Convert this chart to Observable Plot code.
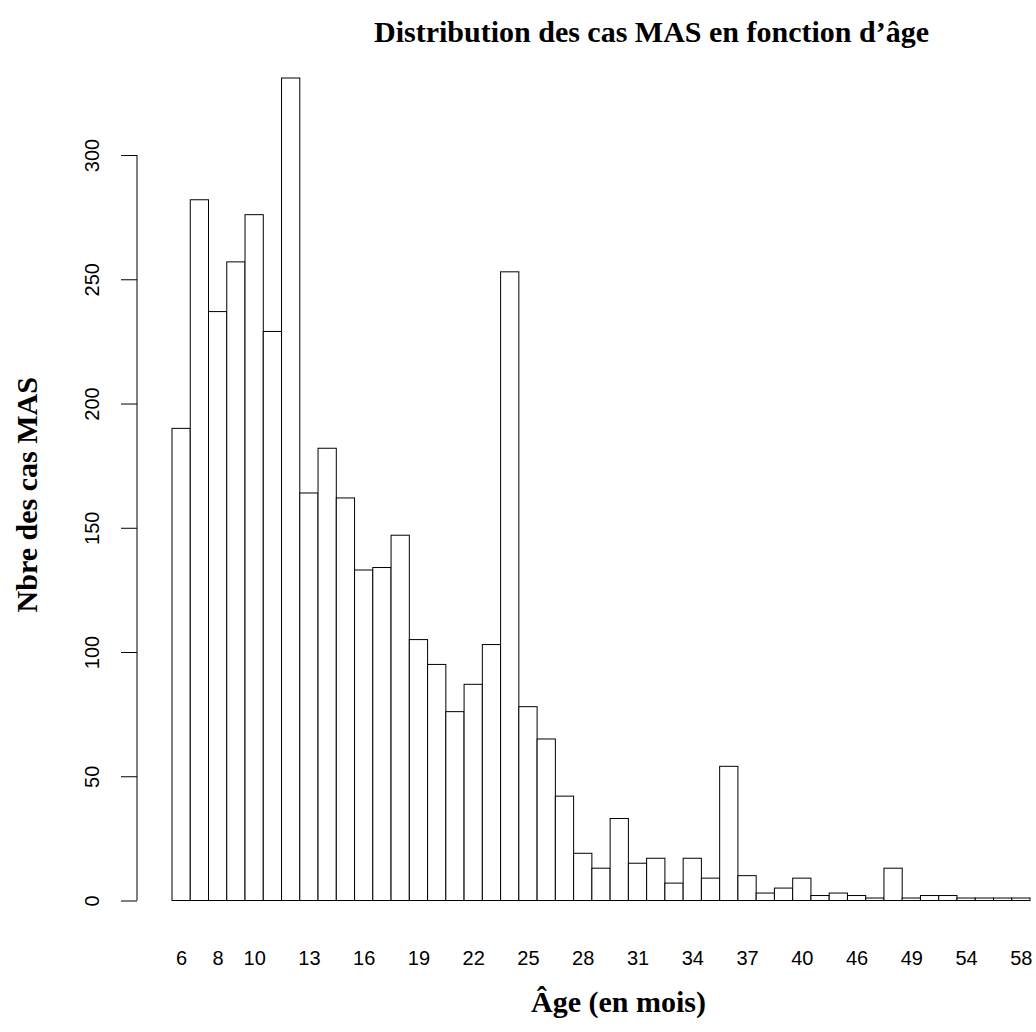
<!DOCTYPE html>
<html>
<head>
<meta charset="utf-8">
<script src="https://cdn.jsdelivr.net/npm/d3@7"></script>
<script src="https://cdn.jsdelivr.net/npm/@observablehq/plot@0.6"></script>
<style>
  html, body { margin: 0; padding: 0; background: white; }
  #chart svg { display: block; }
</style>
</head>
<body>
<div id="chart"></div>
<script>
// Age in months (categories of the bar chart)
const ages = [6, 7, 8, 9, 10, 11, 12, 13, 14, 15, 16, 17, 18, 19, 20, 21, 22, 23, 24, 25,
  26, 27, 28, 29, 30, 31, 32, 33, 34, 35, 36, 37, 38, 39, 40, 42, 44, 46, 47, 48,
  49, 50, 52, 54, 55, 56, 58];
// Number of MAS cases per age
const counts = [190, 282, 237, 257, 276, 229, 331, 164, 182, 162, 133, 134, 147, 105, 95, 76, 87, 103, 253, 78,
  65, 42, 19, 13, 33, 15, 17, 7, 17, 9, 54, 10, 3, 5, 9, 2, 3, 2, 1, 13,
  1, 2, 2, 1, 1, 1, 1];
// Tick labels shown on the x axis
const xTickLabels = ["6", "8", "10", "13", "16", "19", "22", "25", "28", "31", "34", "37", "40", "46", "49", "54", "58"];
// Y axis ticks
const yTicks = [0, 50, 100, 150, 200, 250, 300];

const title = "Distribution des cas MAS en fonction d\u2019\u00e2ge";
const xLabel = "\u00c2ge (en mois)";
const yLabel = "Nbre des cas MAS";

const data = ages.map((a, i) => ({age: String(a), n: counts[i]}));

const serif = "'Liberation Serif', 'Times New Roman', serif";
const sans = "'Liberation Sans', Arial, sans-serif";

const yAxisLine = (index, scales, values, dims) => {
  const y = scales.y;
  const l = document.createElementNS("http://www.w3.org/2000/svg", "line");
  l.setAttribute("x1", dims.marginLeft);
  l.setAttribute("x2", dims.marginLeft);
  l.setAttribute("y1", y(yTicks[0]));
  l.setAttribute("y2", y(yTicks[yTicks.length - 1]));
  l.setAttribute("stroke", "#000");
  l.setAttribute("stroke-width", 1);
  return l;
};

const chart = Plot.plot({
  width: 1036,
  height: 1032,
  marginLeft: 137,
  marginRight: 6,
  marginTop: 78,
  marginBottom: 131.5,
  style: {background: "white", color: "black", fontFamily: sans},
  x: {type: "band", domain: ages.map(String), padding: 0, round: false, insetLeft: 35, axis: null, label: null},
  y: {domain: [0, 331], axis: null, label: null},
  marks: [
    Plot.barY(data, {x: "age", y: "n", fill: "white", stroke: "black", strokeWidth: 1}),
    Plot.axisX(xTickLabels, {tickSize: 0, tickPadding: 50, fontSize: 20, fontFamily: sans, label: null}),
    Plot.axisY(yTicks, {tickSize: 16, tickFormat: () => "", strokeWidth: 1, label: null}),
    yAxisLine,
    Plot.text(yTicks, {y: d => d, text: d => String(d), frameAnchor: "left", dx: -45,
      rotate: -90, textAnchor: "middle", lineAnchor: "middle", fontSize: 20, fontFamily: sans}),
    Plot.text([title], {text: d => d, frameAnchor: "top", dx: 67.5, dy: -46, lineAnchor: "middle",
      fontSize: 30, fontWeight: "bold", fontFamily: serif}),
    Plot.text([xLabel], {text: d => d, frameAnchor: "bottom", dx: 34.5, dy: 101.5, lineAnchor: "middle",
      fontSize: 30, fontWeight: "bold", fontFamily: serif}),
    Plot.text([yLabel], {text: d => d, frameAnchor: "left", dx: -110, dy: 5, rotate: -90,
      textAnchor: "middle", lineAnchor: "middle", fontSize: 30, fontWeight: "bold", fontFamily: serif})
  ]
});

document.getElementById("chart").appendChild(chart);
</script>
</body>
</html>
